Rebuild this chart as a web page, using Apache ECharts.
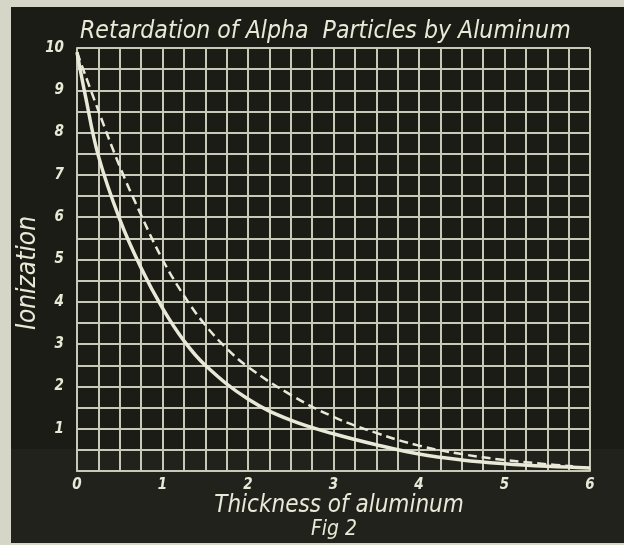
<!DOCTYPE html>
<html>
<head>
<meta charset="utf-8">
<script src="https://cdn.jsdelivr.net/npm/echarts@6/dist/echarts.min.js"></script>
<style>
    html, body { margin: 0; padding: 0; background: #d6d6c8; }
    #plot { width: 624px; height: 545px; }
</style>
</head>
<body>
<div id="plot"></div>
<script>
    // thickness (x) and ionization (y)
    let solidX = [0, 0.1, 0.25, 0.5, 0.75, 1.0, 1.25, 1.5, 2.0, 2.5, 3.0, 3.5, 4.0, 4.5, 5.0, 5.5, 6.0]
    let solidY = [9.9, 8.85, 7.45, 5.95, 4.8, 3.85, 3.08, 2.5, 1.7, 1.2, 0.88, 0.62, 0.4, 0.26, 0.17, 0.11, 0.07]

    let dashX = [0, 0.25, 0.5, 0.75, 1.0, 1.25, 1.5, 1.75, 2.0, 2.5, 3.0, 3.5, 4.0, 4.5, 5.0, 5.5, 5.8]
    let dashY = [9.9, 8.52, 7.2, 6.05, 5.0, 4.15, 3.45, 2.9, 2.46, 1.8, 1.28, 0.9, 0.6, 0.4, 0.26, 0.16, 0.11]

    let titleText = "Retardation of Alpha  Particles by Aluminum"
    let xName = "Thickness of aluminum"
    let yName = "Ionization"
    let figText = "Fig 2"

    let font = "DejaVu Sans Condensed"
    let ink = "#e9e9d8"
    let gridColor = "#c9c9ba"

    function pairs(xs, ys) {
        return xs.map((x, i) => [x, ys[i]])
    }

    let chart = echarts.init(document.getElementById("plot"))

    let option = {
        backgroundColor: "#d6d6c8",
        animation: false,
        graphic: [
            {
                // dark board behind the chart
                type: "rect",
                z: -10,
                shape: { x: 11, y: 7, width: 620, height: 536 },
                style: { fill: "#1c1c16" }
            },
            {
                // slightly lighter band at the bottom of the photo
                type: "rect",
                z: -9,
                shape: { x: 11, y: 449, width: 620, height: 94 },
                style: { fill: "#22221c" }
            },
            {
                type: "text",
                x: 28,
                y: 273,
                rotation: Math.PI / 2,
                style: {
                    text: yName, fill: ink, font: "italic 26px '" + font + "'",
                    align: "center", verticalAlign: "middle"
                }
            },
            {
                type: "text",
                x: 339,
                y: 506,
                style: {
                    text: xName, fill: ink, font: "italic 24px '" + font + "'",
                    align: "center", verticalAlign: "middle"
                }
            },
            {
                type: "text",
                x: 334,
                y: 530,
                style: {
                    text: figText, fill: ink, font: "italic 21px '" + font + "'",
                    align: "center", verticalAlign: "middle"
                }
            }
        ],
        title: {
            text: titleText,
            left: 75,
            top: 14,
            textStyle: { color: ink, fontFamily: font, fontStyle: "italic", fontWeight: "normal", fontSize: 24.6 }
        },
        grid: {
            left: 77,
            right: 34,
            top: 48,
            bottom: 74
        },
        xAxis: {
            type: "value",
            min: 0,
            max: 6,
            interval: 0.25,
            axisLine: { show: true, lineStyle: { color: gridColor, width: 2 } },
            axisTick: { show: false },
            axisLabel: {
                color: ink,
                fontFamily: font,
                fontStyle: "italic",
                fontWeight: "bold",
                fontSize: 15,
                margin: 7,
                formatter: v => (Number.isInteger(v) ? String(v) : "")
            },
            splitLine: { show: true, lineStyle: { color: gridColor, width: 2 } }
        },
        yAxis: {
            type: "value",
            min: 0,
            max: 10,
            interval: 0.5,
            axisLine: { show: true, lineStyle: { color: gridColor, width: 2 } },
            axisTick: { show: false },
            axisLabel: {
                color: ink,
                fontFamily: font,
                fontStyle: "italic",
                fontWeight: "bold",
                fontSize: 15,
                margin: 13,
                formatter: v => (Number.isInteger(v) && v > 0 ? String(v) : "")
            },
            splitLine: { show: true, lineStyle: { color: gridColor, width: 2 } }
        },
        series: [
            {
                name: "solid",
                type: "line",
                smooth: 0.4,
                symbol: "none",
                data: pairs(solidX, solidY),
                lineStyle: { color: ink, width: 3.5 },
                z: 3
            },
            {
                name: "dashed",
                type: "line",
                smooth: 0.4,
                symbol: "none",
                data: pairs(dashX, dashY),
                lineStyle: { color: ink, width: 2.5, type: [9, 5] },
                z: 3
            }
        ]
    }

    chart.setOption(option)
</script>
</body>
</html>
